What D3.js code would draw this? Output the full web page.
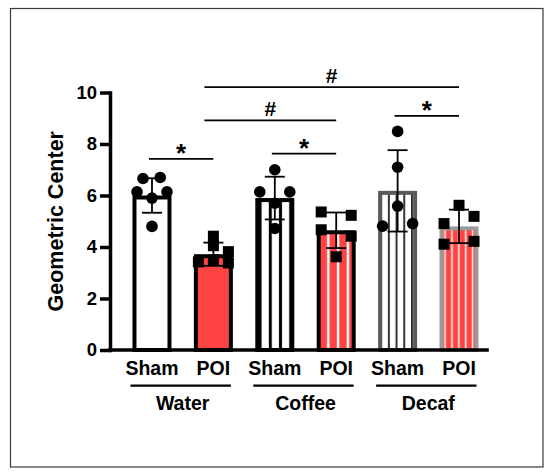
<!DOCTYPE html>
<html>
<head>
<meta charset="utf-8">
<script src="https://cdn.jsdelivr.net/npm/d3@7"></script>
<style>
  body { margin: 0; background: #fff; }
  text { font-family: "Liberation Sans", Arial, Helvetica, sans-serif; font-weight: bold; }
</style>
</head>
<body>
<script>
// groups and bars
const groups = ['Water', 'Coffee', 'Decaf'];
const conditions = ['Sham', 'POI'];
const bars = ['Water Sham', 'Water POI', 'Coffee Sham', 'Coffee POI', 'Decaf Sham', 'Decaf POI'];

// bar heights (mean) and error (SD)
const means = [6.0, 3.72, 5.9, 4.65, 6.18, 4.8];
const sds = [0.67, 0.45, 0.83, 0.69, 1.58, 0.65];

// individual animals
const waterSham = [6.66, 6.7, 6.14, 6.14, 5.9, 4.8];
const waterPOI = [4.42, 4.05, 3.42, 3.82, 3.38, 3.5];
const coffeeSham = [7.0, 6.14, 6.14, 5.7, 4.72];
const coffeePOI = [5.36, 5.23, 4.67, 4.42, 3.62];
const decafSham = [8.49, 7.1, 5.59, 4.81, 4.91];
const decafPOI = [5.62, 4.91, 5.19, 4.11, 4.22];

// scatter column of each point (-1 left, 0 middle, 1 right)
const waterShamCol = [-0.6, 0.55, -1, 1, 0, 0];
const waterPOICol = [0, 0, -1, 1, 1, 0];
const coffeeShamCol = [0, -1, 1, 0, 0];
const coffeePOICol = [-1, 1, -1, 1, 0];
const decafShamCol = [0, 0, 0, -1, 1];
const decafPOICol = [0, -1, 1, -1, 1];

// significance lines: from bar, to bar, height, label
const sigFrom = ['Water Sham', 'Coffee Sham', 'Decaf Sham', 'Water POI', 'Water POI'];
const sigTo = ['Water POI', 'Coffee POI', 'Decaf POI', 'Coffee POI', 'Decaf POI'];
const sigLevel = [7.42, 7.63, 9.09, 8.92, 10.21];
const sigLabel = ['*', '*', '*', '#', '#'];

const yTicks = [0, 2, 4, 6, 8, 10];
const yTitle = 'Geometric Center';

const width = 550, height = 475;
const red = '#ff4343';

const svg = d3.select('body').append('svg')
  .attr('width', width)
  .attr('height', height);

// patterns for striped bars
const defs = svg.append('defs');
function stripes (id, bg, fg, period, lineW) {
  const p = defs.append('pattern')
    .attr('id', id)
    .attr('patternUnits', 'userSpaceOnUse')
    .attr('width', period)
    .attr('height', 10);
  p.append('rect').attr('width', period).attr('height', 10).attr('fill', bg);
  p.append('rect').attr('x', (period - lineW) / 2).attr('width', lineW).attr('height', 10).attr('fill', fg);
}
stripes('coffeeSham', '#fff', '#000', 10.2, 3);
stripes('coffeePOI', red, '#fff', 9.8, 2.4);
stripes('decafSham', '#fff', '#333', 7.7, 2);
stripes('decafPOI', red, '#fff', 6.9, 1.5);

const barFill = ['#fff', red, 'url(#coffeeSham)', 'url(#coffeePOI)', 'url(#decafSham)', 'url(#decafPOI)'];
const barStroke = ['#000', '#000', '#000', '#000', '#5a5a5a', '#9a9a9a'];

// frame
svg.append('rect')
  .attr('x', 10.5).attr('y', 8.5)
  .attr('width', 532.5).attr('height', 458.5)
  .attr('fill', 'none')
  .attr('stroke', '#3a3a3a')
  .attr('stroke-width', 1.2);

const x = d3.scaleBand()
  .domain(bars)
  .range([122.2, 488.8])
  .paddingInner(0.43)
  .paddingOuter(0.2);

const y = d3.scaleLinear()
  .domain([0, 10])
  .range([350, 92.5]);

const bw = x.bandwidth();
const cx = b => x(b) + bw / 2;
const sw = 4;

// bars
svg.append('g')
  .selectAll('rect')
  .data(bars)
  .join('rect')
  .attr('x', d => x(d))
  .attr('y', (d, i) => y(means[i]) + sw / 2)
  .attr('width', bw)
  .attr('height', (d, i) => y(0) - y(means[i]) - sw / 2)
  .attr('fill', (d, i) => barFill[i])
  .attr('stroke', (d, i) => barStroke[i])
  .attr('stroke-width', sw);

// points
const points = [
  [waterSham, waterShamCol], [waterPOI, waterPOICol],
  [coffeeSham, coffeeShamCol], [coffeePOI, coffeePOICol],
  [decafSham, decafShamCol], [decafPOI, decafPOICol]
];
const colStep = 15;
points.forEach(([vals, cols], i) => {
  const g = svg.append('g');
  const rows = vals.map((v, j) => ({ v, c: cols[j] }));
  if (conditions[i % 2] === 'Sham') {
    g.selectAll('circle')
      .data(rows)
      .join('circle')
      .attr('cx', d => cx(bars[i]) + d.c * colStep)
      .attr('cy', d => y(d.v))
      .attr('r', 5.8)
      .attr('fill', '#000');
  } else {
    const s = 11;
    g.selectAll('rect')
      .data(rows)
      .join('rect')
      .attr('x', d => cx(bars[i]) + d.c * colStep - s / 2)
      .attr('y', d => y(d.v) - s / 2)
      .attr('width', s)
      .attr('height', s)
      .attr('fill', '#000');
  }
});

// error bars
const eb = svg.append('g').attr('stroke', '#000').attr('stroke-width', 1.8);
bars.forEach((b, i) => {
  const c = cx(b);
  eb.append('line')
    .attr('x1', c).attr('x2', c)
    .attr('y1', y(means[i] - sds[i])).attr('y2', y(means[i] + sds[i]));
  [means[i] - sds[i], means[i] + sds[i]].forEach(v => {
    eb.append('line')
      .attr('x1', c - 10).attr('x2', c + 10)
      .attr('y1', y(v)).attr('y2', y(v));
  });
});

// y axis
const yAxis = svg.append('g')
  .attr('transform', 'translate(110,0)')
  .call(d3.axisLeft(y).tickValues(yTicks).tickSize(10).tickSizeOuter(0).tickPadding(3));
yAxis.select('.domain').attr('stroke-width', 3.5).attr('stroke-linecap', 'square');
yAxis.selectAll('.tick line').attr('stroke-width', 3.5);
yAxis.selectAll('.tick text')
  .attr('font-size', 18.5)
  .attr('font-family', '"Liberation Sans", Arial, sans-serif')
  .attr('font-weight', 'bold')
  .attr('fill', '#000');

// x axis line
svg.append('line')
  .attr('x1', 108).attr('x2', x.range()[1])
  .attr('y1', y(0)).attr('y2', y(0))
  .attr('stroke', '#000')
  .attr('stroke-width', 3.5);

// y title
svg.append('text')
  .attr('transform', `translate(63,${(y(0) + y(10)) / 2 + 0}) rotate(-90)`)
  .attr('text-anchor', 'middle')
  .attr('font-size', 21.5)
  .text(yTitle);

// bar labels
svg.append('g')
  .selectAll('text')
  .data(bars)
  .join('text')
  .attr('x', d => cx(d))
  .attr('y', 375)
  .attr('text-anchor', 'middle')
  .attr('font-size', 19.5)
  .text((d, i) => conditions[i % 2]);

// group underlines and names
groups.forEach((g, k) => {
  const a = bars[k * 2], b = bars[k * 2 + 1];
  svg.append('line')
    .attr('x1', x(a) - 4).attr('x2', x(b) + bw)
    .attr('y1', 385.7).attr('y2', 385.7)
    .attr('stroke', '#000')
    .attr('stroke-width', 2.2);
  svg.append('text')
    .attr('x', (cx(a) + cx(b)) / 2)
    .attr('y', 410)
    .attr('text-anchor', 'middle')
    .attr('font-size', 19.5)
    .text(g);
});

// significance
sigLevel.forEach((lv, i) => {
  const x1 = cx(sigFrom[i]) - (sigLabel[i] === '#' ? 9 : 3);
  const x2 = cx(sigTo[i]);
  svg.append('line')
    .attr('x1', x1).attr('x2', x2)
    .attr('y1', y(lv)).attr('y2', y(lv))
    .attr('stroke', '#000')
    .attr('stroke-width', 1.8);
  svg.append('text')
    .attr('x', (x1 + x2) / 2)
    .attr('y', sigLabel[i] === '*' ? y(lv) + 3 : y(lv) - 4.5)
    .attr('text-anchor', 'middle')
    .attr('font-size', sigLabel[i] === '*' ? 26 : 21)
    .text(sigLabel[i]);
});
</script>
</body>
</html>
